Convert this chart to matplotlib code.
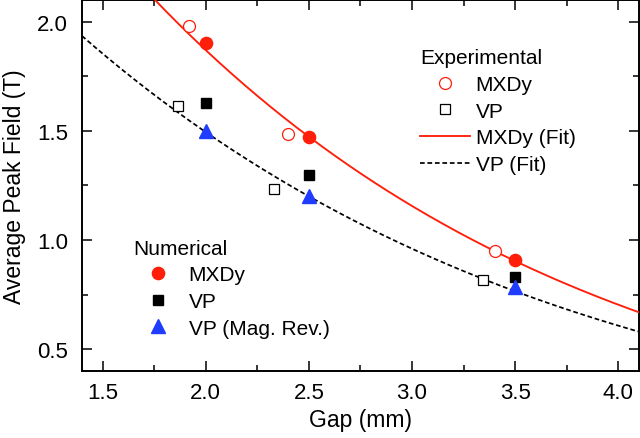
"""
Average peak field vs. gap: experimental and numerical results
for MXDy and VP magnets, with exponential fits to the experiment.
"""

import numpy as np
import matplotlib.pyplot as plt

plt.rcParams['font.family'] = ['Liberation Sans', 'DejaVu Sans']
plt.rcParams['font.size'] = 15

# Experimental data (gap in mm, field in T)
exp_mxdy_gap = [1.92, 2.40, 3.40]
exp_mxdy_field = [1.98, 1.487, 0.949]
exp_vp_gap = [1.867, 2.33, 3.344]
exp_vp_field = [1.612, 1.235, 0.819]

# Numerical data
num_gap = [2.0, 2.5, 3.5]
num_mxdy_field = [1.902, 1.473, 0.907]
num_vp_field = [1.627, 1.300, 0.830]
num_vp_rev_field = [1.498, 1.203, 0.784]

# Fit coefficients: B = a * exp(b*g + c*g^2)
mxdy_fit = [4.674, -0.4427, -0.00767]
vp_fit = [3.463, -0.4053, -0.00744]

RED = '#ff1e0a'
BLUE = '#1f3cff'


def fit_curve(coef, g):
    a, b, c = coef
    return a * np.exp(b * g + c * g ** 2)


fig = plt.figure(figsize=(6.4, 4.39), dpi=100)
ax = fig.add_axes([0.128, 0.1526, 0.8704, 0.8454])

g = np.linspace(1.4, 4.1, 300)

# Experimental series (for the first legend)
h_exp_mxdy, = ax.plot(exp_mxdy_gap, exp_mxdy_field, 'o', ms=8.6, mfc='white',
                      mec=RED, mew=0.9, ls='none', label='MXDy', zorder=4)
h_exp_vp, = ax.plot(exp_vp_gap, exp_vp_field, 's', ms=7.3, mfc='white',
                    mec='black', mew=0.9, ls='none', label='VP', zorder=4)
h_fit_mxdy, = ax.plot(g, fit_curve(mxdy_fit, g), '-', color=RED, lw=1.35,
                      label='MXDy (Fit)', zorder=3)
h_fit_vp, = ax.plot(g, fit_curve(vp_fit, g), color='black', lw=1.25,
                    ls=(0, (2.7, 1.6)), label='VP (Fit)', zorder=3)

# Numerical series (for the second legend)
h_num_mxdy, = ax.plot(num_gap, num_mxdy_field, 'o', ms=8.8, color=RED,
                      ls='none', label='MXDy', zorder=5)
h_num_vp, = ax.plot(num_gap, num_vp_field, 's', ms=7.5, color='black',
                    ls='none', label='VP', zorder=5)
h_num_rev, = ax.plot(num_gap, num_vp_rev_field, '^', ms=10.5, color=BLUE,
                     ls='none', label='VP (Mag. Rev.)', zorder=6)

ax.set_xlim(1.4, 4.1)
ax.set_ylim(0.4, 2.1)
ax.set_xticks([1.5, 2.0, 2.5, 3.0, 3.5, 4.0])
ax.set_xticks(np.arange(1.75, 4.1, 0.5), minor=True)
ax.set_yticks([0.5, 1.0, 1.5, 2.0])
ax.set_yticks([0.75, 1.25, 1.75], minor=True)
ax.set_xticklabels(['1.5', '2.0', '2.5', '3.0', '3.5', '4.0'])
ax.set_yticklabels(['0.5', '1.0', '1.5', '2.0'])

ax.tick_params(which='both', direction='in', top=True, right=True, width=1.1,
               labelsize=16)
ax.tick_params(which='major', length=7.5)
ax.tick_params(which='minor', length=4)
ax.tick_params(axis='x', which='major', pad=8)
ax.tick_params(axis='y', which='major', pad=10)
for sp in ax.spines.values():
    sp.set_linewidth(1.4)

ax.set_xlabel('Gap (mm)', fontsize=16.5, labelpad=3.5)
ax.set_ylabel('Average Peak Field (T)', fontsize=16.5, labelpad=8)

leg_kw = dict(frameon=False, fontsize=15, title_fontsize=15,
              handlelength=2.4, handletextpad=0.27, labelspacing=0.37,
              borderpad=0, borderaxespad=0, alignment='left')

leg1 = ax.legend([h_exp_mxdy, h_exp_vp, h_fit_mxdy, h_fit_vp],
                 ['MXDy', 'VP', 'MXDy (Fit)', 'VP (Fit)'],
                 title='Experimental', loc='upper left',
                 bbox_to_anchor=(0.607, 0.870), **leg_kw)
ax.add_artist(leg1)
ax.legend([h_num_mxdy, h_num_vp, h_num_rev],
          ['MXDy', 'VP', 'VP (Mag. Rev.)'],
          title='Numerical', loc='upper left',
          bbox_to_anchor=(0.0916, 0.357), **leg_kw)

fig.savefig('out.png', dpi=100)
